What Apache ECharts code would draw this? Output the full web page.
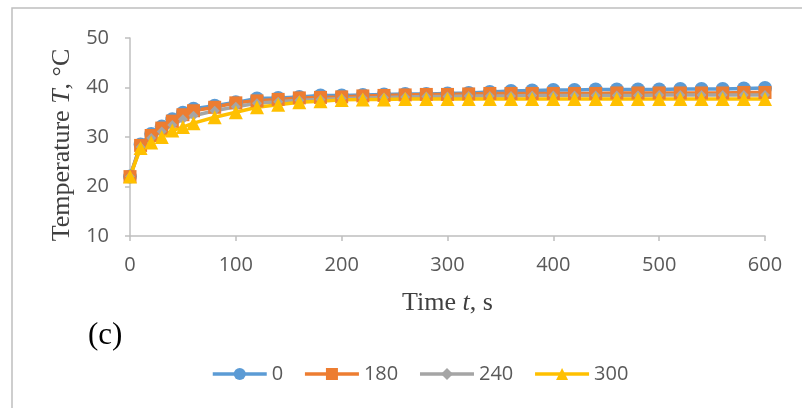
<!DOCTYPE html>
<html>
<head>
<meta charset="utf-8">
<script src="https://cdn.jsdelivr.net/npm/echarts@6/dist/echarts.min.js"></script>
<style>
  html, body { margin: 0; padding: 0; background: #fff; }
  #chart { width: 802px; height: 408px; }
</style>
</head>
<body>
<div id="chart"></div>
<script>
// time points (s)
var times = [0, 10, 20, 30, 40, 50, 60, 80, 100, 120, 140, 160, 180, 200, 220, 240, 260, 280, 300,
  320, 340, 360, 380, 400, 420, 440, 460, 480, 500, 520, 540, 560, 580, 600];

// temperatures, one array per curve
var t0 = [22, 28.5, 30.6, 32.1, 33.6, 34.9, 35.7, 36.3, 37.0, 37.8, 37.9, 38.1, 38.4, 38.4, 38.5, 38.6, 38.7, 38.7, 38.8,
  38.9, 39.1, 39.3, 39.4, 39.5, 39.5, 39.6, 39.6, 39.6, 39.6, 39.7, 39.7, 39.7, 39.8, 39.9];
var t180 = [22, 28.3, 30.3, 31.8, 33.2, 34.5, 35.3, 36.0, 36.9, 37.3, 37.6, 37.9, 38.0, 38.1, 38.3, 38.4, 38.5, 38.6, 38.6,
  38.7, 38.8, 38.8, 38.8, 38.8, 38.8, 38.8, 38.9, 38.9, 38.9, 38.9, 38.9, 38.9, 39.0, 39.0];
var t240 = [22, 28.0, 29.8, 31.1, 32.4, 33.6, 34.3, 35.3, 36.1, 36.8, 37.1, 37.4, 37.6, 37.8, 37.9, 38.0, 38.1, 38.2, 38.2,
  38.3, 38.3, 38.3, 38.4, 38.4, 38.4, 38.4, 38.4, 38.4, 38.5, 38.5, 38.5, 38.5, 38.5, 38.5];
var t300 = [22, 27.8, 28.9, 30.0, 31.3, 32.0, 32.8, 34.0, 35.0, 36.0, 36.5, 37.0, 37.2, 37.5, 37.6, 37.6, 37.7, 37.7, 37.7,
  37.7, 37.7, 37.7, 37.7, 37.7, 37.7, 37.7, 37.7, 37.7, 37.7, 37.7, 37.7, 37.7, 37.7, 37.7];

var seriesNames = ['0', '180', '240', '300'];
var seriesColors = ['#5B9BD5', '#ED7D31', '#A5A5A5', '#FFC000'];
var seriesSymbols = ['circle', 'rect', 'diamond', 'triangle'];
var seriesSizes = [14, 13, 10, 14];
var seriesData = [t0, t180, t240, t300];

var chart = echarts.init(document.getElementById('chart'));

var series = seriesData.map(function (vals, i) {
  return {
    name: seriesNames[i],
    type: 'line',
    data: times.map(function (t, k) { return [t, vals[k]]; }),
    symbol: seriesSymbols[i],
    symbolSize: seriesSizes[i],
    showAllSymbol: true,
    itemStyle: { color: seriesColors[i] },
    lineStyle: { color: seriesColors[i], width: 3.5 },
    animation: false
  };
});

var axisGray = '#BFBFBF';
var labelGray = '#595959';
var titleGray = '#404040';

var option = {
  backgroundColor: '#fff',
  grid: { left: 130, right: 37, top: 38, bottom: 172 },
  legend: {
    data: seriesNames,
    top: 359,
    left: 206,
    itemWidth: 54,
    itemHeight: 15,
    itemGap: 20,
    lineStyle: { width: 3.5 },
    textStyle: { fontFamily: 'Open Sans', fontSize: 20, color: labelGray }
  },
  xAxis: {
    type: 'value',
    min: 0, max: 600, interval: 100,
    name: 'Time {i|t}, s',
    nameLocation: 'middle',
    nameGap: 54,
    nameTextStyle: {
      fontFamily: 'Liberation Serif', fontSize: 26, color: titleGray,
      rich: { i: { fontFamily: 'Liberation Serif', fontStyle: 'italic', fontSize: 26, color: titleGray } }
    },
    axisLine: { show: true, lineStyle: { color: axisGray, width: 1.5 } },
    axisTick: { show: true, length: 5, lineStyle: { color: axisGray, width: 1.5 } },
    axisLabel: { fontFamily: 'Open Sans', fontSize: 20, color: labelGray, margin: 19 },
    splitLine: { show: false }
  },
  yAxis: {
    type: 'value',
    min: 10, max: 50, interval: 10,
    name: 'Temperature {i|T}, °C',
    nameLocation: 'middle',
    nameGap: 52,
    nameTextStyle: {
      fontFamily: 'Liberation Serif', fontSize: 26, color: titleGray,
      padding: [0, 16, 0, 0],
      rich: { i: { fontFamily: 'Liberation Serif', fontStyle: 'italic', fontSize: 26, color: titleGray } }
    },
    axisLine: { show: true, lineStyle: { color: axisGray, width: 1.5 } },
    axisTick: { show: true, length: 5, lineStyle: { color: axisGray, width: 1.5 } },
    axisLabel: { fontFamily: 'Open Sans', fontSize: 20, color: labelGray, margin: 21 },
    splitLine: { show: false }
  },
  graphic: [
    {
      type: 'rect',
      shape: { x: 12, y: 8, width: 800, height: 410 },
      style: { fill: 'none', stroke: '#BFBFBF', lineWidth: 1.5 },
      silent: true
    },
    {
      type: 'text',
      left: 88, top: 320,
      style: { text: '(c)', fontFamily: 'Liberation Serif', fontSize: 31, fill: '#000' }
    }
  ],
  series: series
};

chart.setOption(option);
</script>
</body>
</html>
